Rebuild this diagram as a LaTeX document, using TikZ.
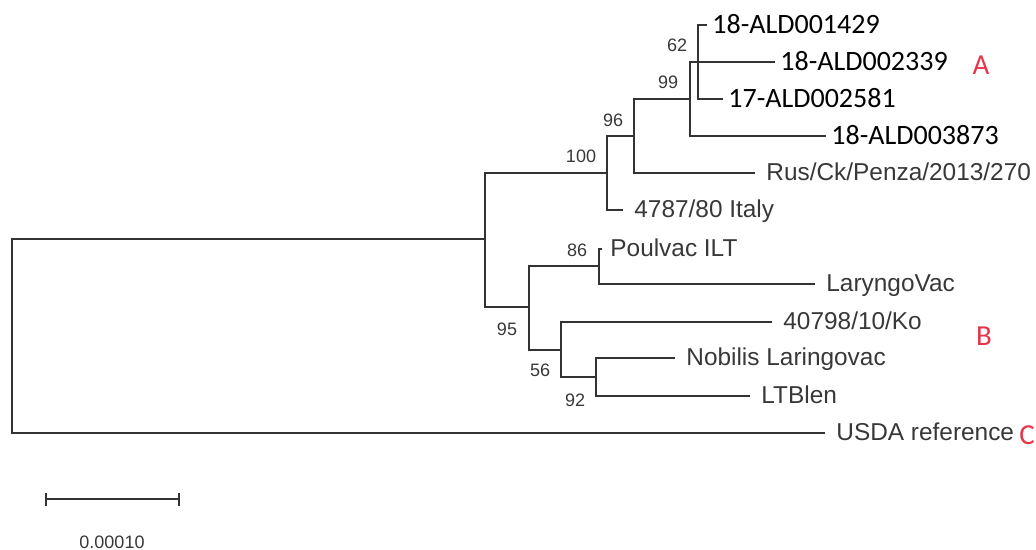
\documentclass[tikz,border=0pt]{standalone}
\usepackage{fontspec}
\setmainfont{Liberation Sans}
\newfontfamily\calfont{Carlito}
\usetikzlibrary{arrows.meta}
\definecolor{branchgray}{HTML}{333333}
\definecolor{labelgray}{HTML}{383838}
\definecolor{cladered}{RGB}{232,52,72}

\begin{document}
\begin{tikzpicture}[x=0.5pt, y=-0.5pt,
  branch/.style={draw=branchgray, line width=1pt},
  taxon/.style={anchor=west, inner xsep=5.5pt, inner ysep=0pt, text height=7.8pt, text depth=0pt,
    text=labelgray, font=\fontsize{12.2}{14}\selectfont},
  sample/.style={anchor=west, inner xsep=2.5pt, inner ysep=0pt, text height=8.4pt, text depth=0pt,
    text=black, font=\calfont\fontsize{14}{16}\selectfont},
  boot/.style={inner sep=0pt, text=labelgray, font=\fontsize{9}{10}\selectfont},
  clade/.style={inner sep=0pt, text=cladered, font=\calfont\fontsize{14.5}{16}\selectfont}]
\useasboundingbox (0,0) rectangle (1036,550);

% inner nodes of the tree
\coordinate (root) at (12,336);
\coordinate (n0) at (485,239.5);
\coordinate (n100) at (607,173);
\coordinate (n96) at (634,136);
\coordinate (n99) at (690,99);
\coordinate (n62) at (698,62);
\coordinate (n95) at (529,307);
\coordinate (n86) at (599,266.5);
\coordinate (n56) at (561,350);
\coordinate (n92) at (596,377);

% leaves
\node[sample] (ald1429) at (707,25) {18-ALD001429};
\node[sample] (ald2339) at (775,62) {18-ALD002339};
\node[sample] (ald2581) at (723,99) {17-ALD002581};
\node[sample] (ald3873) at (826,136) {18-ALD003873};
\node[taxon] (penza) at (755,173) {Rus/Ck/Penza/2013/270};
\node[taxon] (italy) at (623,210) {4787/80 Italy};
\node[taxon, inner xsep=4pt] (poulvac) at (602,249) {Poulvac ILT};
\node[taxon] (laryngo) at (815,284) {LaryngoVac};
\node[taxon] (ko) at (772,322) {40798/10/Ko};
\node[taxon] (nobilis) at (675,358) {Nobilis Laringovac};
\node[taxon] (ltblen) at (750,396) {LTBlen};
\node[taxon] (usda) at (825,433) {USDA reference};

% branches
\draw[branch] (root) |- (n0);
\draw[branch] (root) |- (usda.west);
\draw[branch] (n0) |- (n100);
\draw[branch] (n0) |- (n95);
\draw[branch] (n100) |- (n96);
\draw[branch] (n100) |- (italy.west);
\draw[branch] (n96) |- (n99);
\draw[branch] (n96) |- (penza.west);
\draw[branch] (n99) |- (n62);
\draw[branch] (n99) |- (ald3873.west);
\draw[branch] (n62) |- (ald1429.west);
\draw[branch] (n62) |- (ald2339.west);
\draw[branch] (n62) |- (ald2581.west);
\draw[branch] (n95) |- (n86);
\draw[branch] (n95) |- (n56);
\draw[branch] (n86) |- (poulvac.west);
\draw[branch] (n86) |- (laryngo.west);
\draw[branch] (n56) |- (ko.west);
\draw[branch] (n56) |- (n92);
\draw[branch] (n92) |- (nobilis.west);
\draw[branch] (n92) |- (ltblen.west);

% bootstrap values
\node[boot] (b62) at (677,45) {62};
\node[boot] (b99) at (668,82) {99};
\node[boot] (b96) at (613,120) {96};
\node[boot] (b100) at (581,156) {100};
\node[boot] (b86) at (577,250) {86};
\node[boot] (b95) at (507,329) {95};
\node[boot] (b56) at (540,370) {56};
\node[boot] (b92) at (575,400) {92};

% clades
\node[clade] (cladeA) at (981,65) {A};
\node[clade] (cladeB) at (984,336) {B};
\node[clade] (cladeC) at (1027,435) {C};

% scale bar
\coordinate (sbl) at (45,499);
\coordinate (sbr) at (180,499);
\draw[branch, {Bar[width=6.5pt]}-{Bar[width=6.5pt]}] (sbl) -- (sbr);
\node[boot] (sblabel) at (112,542) {0.00010};
\end{tikzpicture}
\end{document}
